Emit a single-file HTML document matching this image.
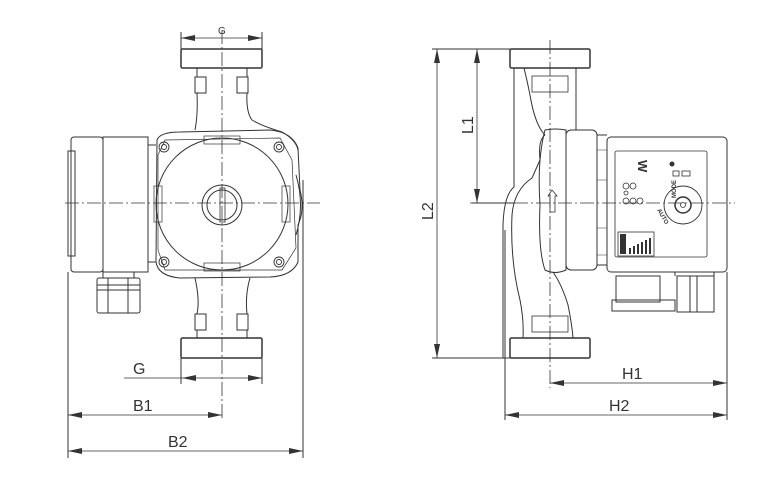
<!DOCTYPE html>
<html><head><meta charset="utf-8"><style>html,body{margin:0;padding:0;background:#fff}svg{display:block}</style></head>
<body>
<svg width="770" height="499" viewBox="0 0 770 499" xmlns="http://www.w3.org/2000/svg" font-family="Liberation Sans, sans-serif">
<defs>
<marker id="a" viewBox="0 0 14 6" refX="14" refY="3" markerWidth="14" markerHeight="6" orient="auto-start-reverse" markerUnits="userSpaceOnUse"><path d="M0,0 L14,3 L0,6 z" fill="#333"/></marker>
</defs>
<g fill="none" stroke="#333" stroke-width="1">
<!-- LEFT VIEW -->
<g stroke-dasharray="14,3,2,3" stroke-width="0.8">
<line x1="222" y1="30" x2="222" y2="420"/>
<line x1="65" y1="203" x2="320" y2="203"/>
</g>
<rect x="181" y="49" width="81" height="19" rx="1.5" stroke-width="1.5"/>
<rect x="181" y="338" width="81" height="20" rx="1.5" stroke-width="1.5"/>
<path d="M197,68 V77 M247,68 V77"/>
<rect x="195" y="77" width="11" height="16"/><rect x="237" y="77" width="11" height="16"/>
<path d="M197,93 Q198,115 195,130 M247,93 Q246,112 252,120 Q262,126 282,132 Q296,140 298,150"/>
<rect x="195" y="314" width="11" height="16"/><rect x="237" y="314" width="11" height="16"/>
<path d="M197,330 V338 M247,330 V338 M195,278 Q200,300 197,314 M247,314 Q245,295 250,278"/>
<path d="M157,140 Q160,132 180,132 L270,130 Q292,132 298,148 L300,190 Q305,210 298,225 L298,262 Q292,276 270,277 L180,278 Q158,276 156,262 Z"/>
<path d="M165,140 L280,138 L292,160 L296,248 L282,270 L165,270 L158,250 L158,155 Z" stroke-width="0.7"/>
<circle cx="222" cy="204" r="66"/>
<rect x="204" y="136" width="36" height="8" stroke-width="0.7"/>
<rect x="204" y="263" width="36" height="8" stroke-width="0.7"/>
<rect x="154" y="186" width="8" height="36" stroke-width="0.7"/>
<rect x="282" y="186" width="8" height="36" stroke-width="0.7"/>
<circle cx="222" cy="205" r="20"/><circle cx="222" cy="205" r="15"/>
<rect x="220" y="188" width="5" height="34" stroke-width="0.8"/>
<g stroke-width="0.9">
<circle cx="164" cy="147" r="5"/><circle cx="164" cy="147" r="2.5"/>
<circle cx="279" cy="147" r="5"/><circle cx="279" cy="147" r="2.5"/>
<circle cx="164" cy="262" r="5"/><circle cx="164" cy="262" r="2.5"/>
<circle cx="279" cy="262" r="5"/><circle cx="279" cy="262" r="2.5"/>
</g>
<path d="M296,175 Q305,205 296,235"/>
<rect x="71" y="137" width="32" height="135" rx="3"/>
<rect x="103" y="137" width="45" height="135"/>
<rect x="68" y="151" width="7" height="105"/>
<path d="M148,145 H156 M148,262 H156"/>
<rect x="97" y="278" width="43" height="35" rx="2"/>
<path d="M103,272 V278 M134,272 V278 M108,278 V313 M128,278 V313 M97,285 H140 M97,290 H140"/>
<path d="M181,49 V32 M262,49 V32 M181,358 V384 M262,358 V384 M68,272 V458 M303,180 V458"/>
<line x1="181" y1="38" x2="262" y2="38" stroke-width="0.8" marker-start="url(#a)" marker-end="url(#a)"/>
<line x1="124" y1="378" x2="182" y2="378" stroke-width="0.8"/>
<line x1="182" y1="378" x2="262" y2="378" stroke-width="0.8" marker-start="url(#a)" marker-end="url(#a)"/>
<line x1="68" y1="415" x2="222" y2="415" stroke-width="0.8" marker-start="url(#a)" marker-end="url(#a)"/>
<line x1="68" y1="451" x2="303" y2="451" stroke-width="0.8" marker-start="url(#a)" marker-end="url(#a)"/>

<!-- RIGHT VIEW -->
<g stroke-dasharray="14,3,2,3" stroke-width="0.8">
<line x1="550" y1="40" x2="550" y2="388"/>
<line x1="470" y1="203" x2="735" y2="203"/>
</g>
<rect x="510" y="49" width="80" height="19" rx="1.5" stroke-width="1.5"/>
<rect x="510" y="338" width="80" height="20" rx="1.5" stroke-width="1.5"/>
<rect x="532" y="76" width="36" height="16" stroke-width="0.8"/>
<rect x="532" y="316" width="36" height="16" stroke-width="0.8"/>
<!-- pipe body -->
<path d="M514,68 V187 Q504,195 503,225 V358"/>
<path d="M524,68 Q527,80 530,95 Q535,125 545,135"/>
<path d="M576,68 V130"/>
<path d="M545,135 Q538,140 540,160 L532,178 Q514,190 512,215 Q510,260 520,300 Q524,320 523,338"/>
<path d="M553,272 Q562,285 568,305 Q572,325 573,338"/>
<path d="M545,130 Q555,128 566,130 L566,270 Q555,275 545,270 Q538,250 540,205 Q537,160 545,130 Z"/>
<rect x="566" y="130" width="31" height="140" rx="5"/>
<path d="M597,135 H607 M597,265 H607 M597,140 V262"/>
<path d="M597,150 H607 M597,180 H607 M597,228 H607 M597,255 H607" stroke-width="0.6"/>
<rect x="607" y="137" width="120" height="135" rx="4"/>
<rect x="615" y="151" width="92" height="106" rx="2" stroke-width="0.8"/>
<path d="M552,190 L557,196 H555 V212 H550 V196 H548 Z" stroke-width="0.8"/>
<circle cx="683" cy="205" r="19" stroke-width="0.9"/>
<circle cx="683" cy="205" r="8" stroke-width="1.5"/>
<circle cx="683" cy="205" r="2.5" stroke-width="0.8"/>
<g stroke-width="0.8">
<circle cx="626" cy="186" r="3"/><circle cx="633" cy="186" r="3"/>
<circle cx="626" cy="201" r="3"/><circle cx="633" cy="201" r="3"/><circle cx="640" cy="201" r="3"/>
<circle cx="626" cy="193" r="2"/>
<rect x="618" y="232" width="36" height="24"/>
</g>
<circle cx="672" cy="164" r="2" fill="#333"/>
<rect x="673" y="171" width="6" height="5" stroke-width="0.8"/><rect x="682" y="171" width="8" height="5" stroke-width="0.8"/>
<g fill="#333" stroke="none">
<rect x="620" y="234" width="6" height="20"/>
<rect x="629" y="248" width="2" height="6"/><rect x="633" y="246" width="2" height="8"/><rect x="637" y="244" width="2" height="10"/>
<rect x="641" y="242" width="2" height="12"/><rect x="645" y="240" width="2" height="14"/><rect x="649" y="238" width="2" height="16"/>
</g>
<rect x="616" y="276" width="44" height="26"/>
<rect x="612" y="300" width="63" height="11"/>
<rect x="677" y="276" width="37" height="36"/>
<path d="M690,276 V312 M697,276 V312 M675,272 V276 M714,272 V276"/>
<path d="M432,49 H510 M432,358 H510 M472,203 H514 M505,230 V420 M727,272 V420"/>
<line x1="437" y1="49" x2="437" y2="358" stroke-width="0.8" marker-start="url(#a)" marker-end="url(#a)"/>
<line x1="477" y1="49" x2="477" y2="203" stroke-width="0.8" marker-start="url(#a)" marker-end="url(#a)"/>
<line x1="550" y1="383" x2="727" y2="383" stroke-width="0.8" marker-start="url(#a)" marker-end="url(#a)"/>
<line x1="505" y1="415" x2="727" y2="415" stroke-width="0.8" marker-start="url(#a)" marker-end="url(#a)"/>
</g>
<g fill="#333" font-size="16">
<text x="218" y="34" font-size="10">G</text>
<text x="133" y="374">G</text>
<text x="133" y="411">B1</text>
<text x="168" y="447">B2</text>
<text x="622" y="379">H1</text>
<text x="609" y="411">H2</text>
<text transform="translate(433,220) rotate(-90)">L2</text>
<text transform="translate(473,134) rotate(-90)">L1</text>
<text transform="translate(638,160) rotate(90)" font-size="13" font-weight="bold">W</text>
<text transform="translate(676,198) rotate(-90)" font-size="6" font-weight="bold">MODE</text>
<text transform="translate(657,210) rotate(60)" font-size="6" font-weight="bold">AUTO</text>
</g>
</svg>
</body></html>
